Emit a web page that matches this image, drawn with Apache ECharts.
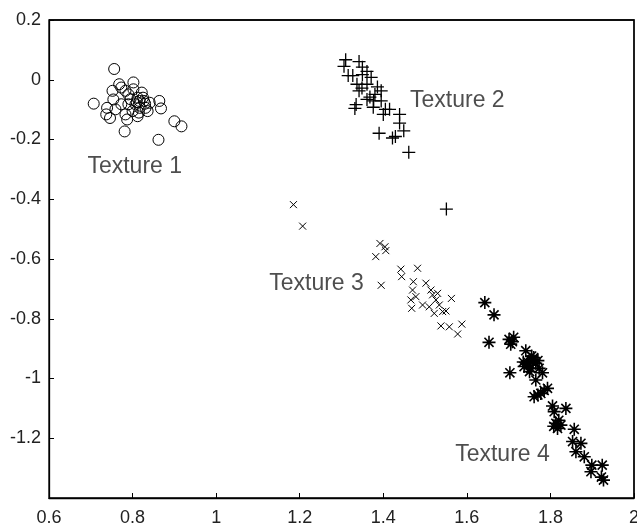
<!DOCTYPE html>
<html><head><meta charset="utf-8">
<script src="https://cdn.jsdelivr.net/npm/echarts@6/dist/echarts.min.js"></script>
<style>html,body{margin:0;padding:0;background:#fff}#c{width:637px;height:528px}</style>
</head><body><div id="c"></div>
<script>
const xTicks = [0.6, 0.8, 1, 1.2, 1.4, 1.6, 1.8, 2];
const yTicks = [0.2, 0, -0.2, -0.4, -0.6, -0.8, -1, -1.2];

const texture1 = [[0.756,0.036],[0.707,-0.08],[0.737,-0.116],[0.746,-0.128],[0.781,-0.173],[0.862,-0.201],[0.9,-0.139],[0.917,-0.156],[0.864,-0.071],[0.868,-0.096],[0.802,-0.009],[0.768,-0.015],[0.752,-0.037],[0.754,-0.066],[0.773,-0.026],[0.79,-0.049],[0.812,-0.06],[0.822,-0.043],[0.8,-0.105],[0.783,-0.116],[0.812,-0.122],[0.831,-0.094],[0.841,-0.077],[0.827,-0.071],[0.773,-0.082],[0.79,-0.082],[0.807,-0.082],[0.817,-0.071],[0.787,-0.133],[0.739,-0.094],[0.759,-0.099],[0.836,-0.105],[0.802,-0.032],[0.783,-0.037],[0.817,-0.094],[0.825,-0.06],[0.81,-0.075],[0.795,-0.065],[0.83,-0.08],[0.815,-0.11]];

const texture2 = [[1.31,0.067],[1.306,0.045],[1.316,0.014],[1.342,0.061],[1.35,0.042],[1.361,0.028],[1.371,0.008],[1.327,0.014],[1.337,-0.015],[1.349,-0.028],[1.361,-0.015],[1.386,-0.024],[1.38,-0.049],[1.395,-0.037],[1.361,-0.066],[1.377,-0.071],[1.335,-0.083],[1.332,-0.096],[1.395,-0.071],[1.405,-0.099],[1.415,-0.099],[1.4,-0.116],[1.439,-0.116],[1.439,-0.145],[1.449,-0.171],[1.429,-0.19],[1.422,-0.195],[1.39,-0.179],[1.461,-0.243],[1.551,-0.433],[1.35,0.017],[1.342,-0.037],[1.368,-0.058],[1.376,-0.092]];

const texture3 = [[1.185,-0.418],[1.207,-0.49],[1.392,-0.548],[1.404,-0.559],[1.406,-0.572],[1.382,-0.592],[1.395,-0.688],[1.442,-0.634],[1.444,-0.659],[1.482,-0.631],[1.472,-0.676],[1.47,-0.704],[1.466,-0.737],[1.468,-0.765],[1.502,-0.681],[1.514,-0.704],[1.518,-0.72],[1.494,-0.754],[1.51,-0.76],[1.526,-0.737],[1.534,-0.754],[1.542,-0.776],[1.55,-0.774],[1.563,-0.732],[1.538,-0.824],[1.558,-0.827],[1.578,-0.851],[1.588,-0.818],[1.478,-0.726],[1.522,-0.782],[1.53,-0.715]];

const texture4 = [[1.643,-0.746],[1.665,-0.787],[1.653,-0.879],[1.701,-0.869],[1.709,-0.877],[1.705,-0.885],[1.712,-0.862],[1.703,-0.981],[1.741,-0.907],[1.745,-0.944],[1.757,-0.938],[1.765,-0.949],[1.753,-0.966],[1.773,-0.966],[1.737,-0.96],[1.75,-0.977],[1.781,-0.981],[1.765,-1.005],[1.761,-1.061],[1.777,-1.05],[1.793,-1.033],[1.805,-1.092],[1.809,-1.111],[1.837,-1.1],[1.813,-1.15],[1.817,-1.167],[1.825,-1.156],[1.808,-1.16],[1.82,-1.14],[1.857,-1.17],[1.853,-1.211],[1.873,-1.217],[1.861,-1.245],[1.881,-1.262],[1.899,-1.29],[1.897,-1.312],[1.924,-1.29],[1.927,-1.34],[1.922,-1.33],[1.76,-0.93],[1.748,-0.955],[1.77,-0.94],[1.755,-0.925],[1.735,-0.945],[1.785,-1.04],[1.77,-1.055]];

const labelNames = ['Texture 1', 'Texture 2', 'Texture 3', 'Texture 4'];
const labelX = [0.692, 1.464, 1.127, 1.572];
const labelY = [-0.292, -0.071, -0.684, -1.256];

const FONT = 'Liberation Sans';
const chart = echarts.init(document.getElementById('c'), null, {renderer: 'canvas'});
const sym = (symbol, size, bw) => ({
  type: 'scatter', symbol, symbolSize: size, silent: true,
  itemStyle: {color: 'rgba(0,0,0,0)', borderColor: '#000', borderWidth: bw, opacity: 1}
});
const pick = (list) => v => { const t = list.find(k => Math.abs(k - v) < 1e-6); return t === undefined ? '' : String(t); };
chart.setOption({
  animation: false,
  backgroundColor: '#fff',
  grid: {left: 49, right: 3, top: 20, bottom: 30, outerBoundsMode: 'none', containLabel: false,
    show: true, backgroundColor: 'rgba(0,0,0,0)', borderColor: '#000', borderWidth: 1.3},
  xAxis: {
    type: 'value', min: 0.6, max: 2, interval: 0.2, position: 'bottom',
    axisLine: {show: true, onZero: false, lineStyle: {color: '#000', width: 1.3}},
    axisTick: {show: true, inside: true, length: 5, lineStyle: {color: '#000'}},
    splitLine: {show: false},
    axisLabel: {color: '#222', fontFamily: FONT, fontSize: 18, margin: 11, showMaxLabel: true, hideOverlap: false, formatter: pick(xTicks)}
  },
  yAxis: {
    type: 'value', min: -1.4, max: 0.2, interval: 0.2, position: 'left',
    axisLine: {show: true, onZero: false, lineStyle: {color: '#000', width: 1.3}},
    axisTick: {show: true, inside: true, length: 5, lineStyle: {color: '#000'}},
    splitLine: {show: false},
    axisLabel: {color: '#222', fontFamily: FONT, fontSize: 18, margin: 8, formatter: pick(yTicks)}
  },
  series: [
    Object.assign(sym('circle', 11, 1), {data: texture1}),
    Object.assign(sym('path://M5,0L5,10M0,5L10,5', 13, 1.3), {data: texture2}),
    Object.assign(sym('path://M0,0L10,10M10,0L0,10', 7, 1), {data: texture3}),
    Object.assign(sym('path://M5,0L5,10M0,5L10,5M1.5,1.5L8.5,8.5M8.5,1.5L1.5,8.5', 13, 1.6), {data: texture4}),
    {
      type: 'scatter', symbolSize: 0, silent: true,
      data: labelNames.map((n, i) => [labelX[i], labelY[i], n]),
      label: {show: true, position: 'right', distance: 0, formatter: p => p.value[2],
        color: '#222', fontFamily: FONT, fontSize: 23}
    }
  ]
});
// frame (top and right sides) placed through the axes' own scales
const tl = chart.convertToPixel({gridIndex: 0}, [0.6, 0.2]);
const br = chart.convertToPixel({gridIndex: 0}, [2, -1.4]);
chart.setOption({
  graphic: [{
    type: 'polyline', silent: true, z: 100,
    shape: {points: [[tl[0], tl[1]], [br[0], tl[1]], [br[0], br[1]]]},
    style: {stroke: '#000', lineWidth: 1.3, fill: null}
  }]
});
</script></body></html>
